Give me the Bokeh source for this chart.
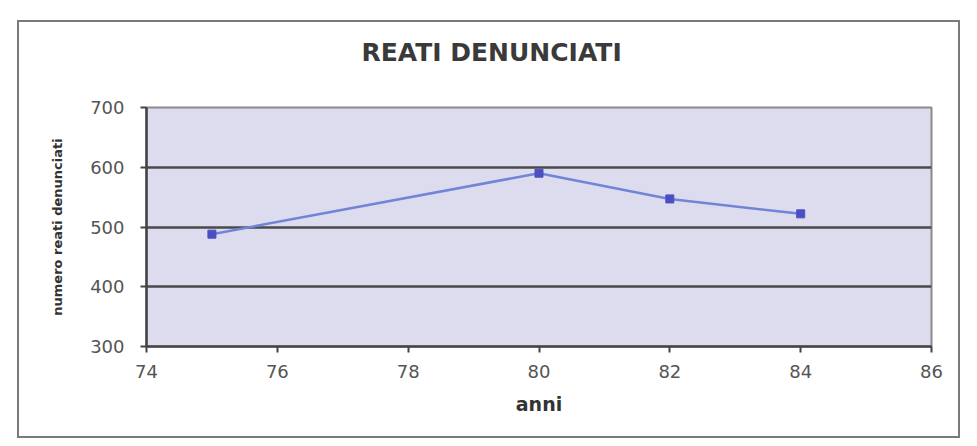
from bokeh.plotting import figure
from bokeh.models import Range1d, FixedTicker, ColumnDataSource
from bokeh.embed import file_html
from bokeh.resources import INLINE

anni = [75, 80, 82, 84]
reati = [488, 590, 547, 522]
x_ticks = [74, 76, 78, 80, 82, 84, 86]
y_ticks = [300, 400, 500, 600, 700]

W, H = 943, 418
p = figure(width=W, height=H, output_backend="svg", toolbar_location=None,
           x_range=Range1d(74, 86), y_range=Range1d(300, 700),
           min_border_left=127, min_border_right=31, min_border_top=85,
           min_border_bottom=94)

p.title.text = "REATI DENUNCIATI\n "
p.title.align = "left"
p.title.vertical_align = "bottom"
p.title.text_font = "DejaVu Sans"
p.title.text_font_style = "bold"
p.title.text_font_size = "25px"
p.title.text_color = "#3a3a3a"
p.title.offset = 215
p.title.standoff = 24

p.background_fill_color = "#dddcef"
p.border_fill_color = "#ffffff"
p.outline_line_color = "#8a8a8a"
p.outline_line_width = 2

p.xgrid.grid_line_color = None
p.ygrid.grid_line_color = "#4a4a4a"
p.ygrid.grid_line_width = 2.5

p.xaxis.ticker = FixedTicker(ticks=x_ticks)
p.yaxis.ticker = FixedTicker(ticks=y_ticks)
for ax in (p.xaxis, p.yaxis):
    ax.axis_line_color = "#444444"
    ax.axis_line_width = 2.5
    ax.major_tick_line_color = "#444444"
    ax.major_tick_line_width = 2
    ax.major_tick_out = 6
    ax.major_tick_in = 0
    ax.minor_tick_line_color = None
    ax.major_label_text_font = "DejaVu Sans"
    ax.major_label_text_font_size = "18px"
    ax.major_label_text_color = "#555555"
    ax.axis_label_text_font = "DejaVu Sans"
    ax.axis_label_text_font_style = "bold"
    ax.axis_label_text_color = "#333333"

p.yaxis.major_label_standoff = 16
p.xaxis.major_label_standoff = 12

p.xaxis.axis_label = "anni"
p.xaxis.axis_label_text_font_size = "19px"
p.xaxis.axis_label_standoff = 12
p.yaxis.axis_label = "numero reati denunciati"
p.yaxis.axis_label_text_font_size = "13px"
p.yaxis.axis_label_standoff = 22

src = ColumnDataSource(dict(x=anni, y=reati))
p.line("x", "y", source=src, line_color="#7184d6", line_width=2.5)
p.scatter("x", "y", source=src, marker="square", size=8, fill_color="#4b4fc2",
          line_color="#4b4fc2")

p.styles = {"border": "2px solid #7a7a7a", "margin-left": "17px", "margin-top": "20px"}

open("out.html", "w").write(file_html(p, INLINE))
